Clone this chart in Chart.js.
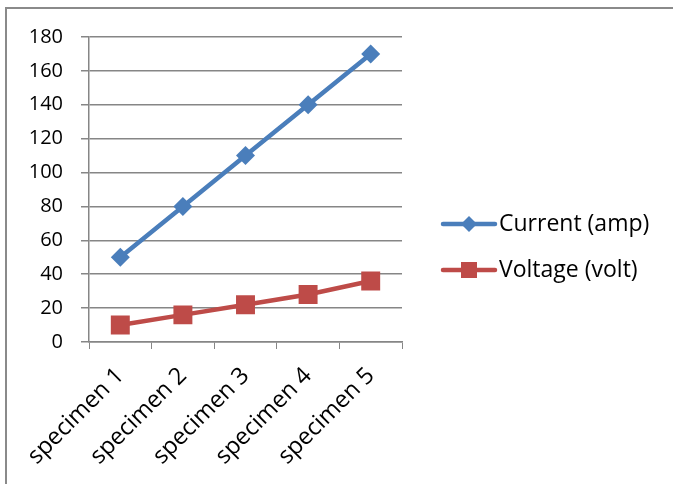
<!DOCTYPE html>
<html>
<head>
<meta charset="utf-8">
<script src="https://cdn.jsdelivr.net/npm/chart.js@4"></script>
<style>
  html, body { margin: 0; padding: 0; background: #fff; overflow: hidden; }
  #frame { position: absolute; left: 5px; top: 7px; width: 720px; height: 520px; border: 2px solid #8a8a8a; }
  #wrap { position: absolute; left: 0; top: 0; width: 673px; height: 484px; }
</style>
</head>
<body>
<div id="frame"></div>
<div id="wrap"><canvas id="elecChart"></canvas></div>
<script>
const specimens = ["specimen 1", "specimen 2", "specimen 3", "specimen 4", "specimen 5"];
const currentAmp = [50, 80, 110, 140, 170];
const voltageVolt = [10, 16, 22, 28, 36];
const seriesNames = ["Current (amp)", "Voltage (volt)"];

const blue = "#4a7ebb";
const red = "#be4b48";
const gridGray = "#868686";
const font = "'Open Sans', Lato, sans-serif";

// legend drawn by hand so it sits like the Excel one (line + marker + text)
const sideLegend = {
  id: "sideLegend",
  afterDraw(chart) {
    const c = chart.ctx;
    const left = chart.chartArea.right + 39;
    const rows = [224, 270];
    chart.data.datasets.forEach((ds, i) => {
      const y = rows[i];
      c.save();
      c.strokeStyle = ds.borderColor;
      c.lineWidth = 4.5;
      c.lineCap = "round";
      c.beginPath();
      c.moveTo(left + 2, y);
      c.lineTo(left + 54, y);
      c.stroke();
      c.fillStyle = ds.backgroundColor;
      c.beginPath();
      if (ds.pointStyle === "rectRot") {
        c.moveTo(left + 28, y - 8);
        c.lineTo(left + 36, y);
        c.lineTo(left + 28, y + 8);
        c.lineTo(left + 20, y);
        c.closePath();
      } else {
        c.rect(left + 20, y - 8, 16, 16);
      }
      c.fill();
      c.fillStyle = "#000";
      c.font = "23px " + font;
      c.textBaseline = "middle";
      c.textAlign = "left";
      c.fillText(ds.label, left + 58, y);
      c.restore();
    });
  }
};

const ctx = document.getElementById("elecChart").getContext("2d");

new Chart(ctx, {
  type: "line",
  data: {
    labels: specimens,
    datasets: [
      {
        label: seriesNames[0],
        data: currentAmp,
        borderColor: blue,
        backgroundColor: blue,
        borderWidth: 4.5,
        pointStyle: "rectRot",
        pointRadius: 9.5,
        pointBorderWidth: 0,
        tension: 0
      },
      {
        label: seriesNames[1],
        data: voltageVolt,
        borderColor: red,
        backgroundColor: red,
        borderWidth: 4.5,
        pointStyle: "rect",
        pointRadius: 13.4,
        pointBorderWidth: 0,
        tension: 0
      }
    ]
  },
  options: {
    responsive: true,
    maintainAspectRatio: false,
    animation: false,
    layout: {
      padding: { left: 0, top: 37, right: 271, bottom: 0 }
    },
    plugins: {
      legend: { display: false },
      tooltip: { enabled: false }
    },
    scales: {
      x: {
        offset: true,
        afterFit: scale => { scale.height = 142; },
        grid: {
          offset: true,
          drawOnChartArea: false,
          drawTicks: true,
          tickLength: 7,
          color: gridGray
        },
        border: { color: gridGray, width: 1.5 },
        ticks: {
          color: "#000",
          font: { family: font, size: 23.5 },
          minRotation: 45,
          maxRotation: 45,
          padding: 13
        }
      },
      y: {
        min: 0,
        max: 180,
        afterFit: scale => { scale.width = 89; },
        grid: {
          color: gridGray,
          lineWidth: 1.5,
          drawTicks: true,
          tickLength: 8
        },
        border: { color: gridGray, width: 1.5 },
        ticks: {
          stepSize: 20,
          color: "#000",
          font: { family: font, size: 20 },
          padding: 18
        }
      }
    }
  },
  plugins: [sideLegend]
});
</script>
</body>
</html>
